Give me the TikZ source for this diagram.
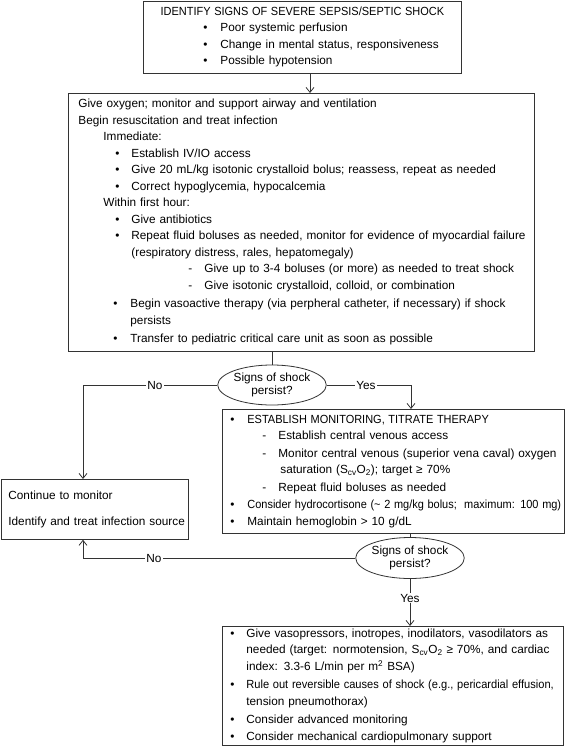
\documentclass[tikz,border=0pt]{standalone}
\usepackage{fontspec}
\setmainfont{Liberation Sans}
\usetikzlibrary{arrows.meta,shapes.geometric}
\newcommand\Lnn[1]{\makebox[\linewidth][l]{#1}}
\newcommand\itm[3]{\Lnn{\hspace*{#1pt}\makebox[#2pt][l]{\textbullet}#3}}
\newcommand\dsh[3]{\Lnn{\hspace*{#1pt}\makebox[#2pt][l]{-}#3}}
\newcommand\ind[2]{\Lnn{\hspace*{#1pt}#2}}
\newcommand\scvo{S\textsubscript{cv}O\textsubscript{2}}
\newcommand\caps[1]{\scalebox{0.93}[1]{#1}}
\newcommand\narrow[2]{\scalebox{#1}[1]{#2}}
\begin{document}
\begin{tikzpicture}[x=1pt,y=-1pt,
  every node/.style={font=\fontsize{11.8}{16.5}\selectfont},
  box/.style={draw=black!80, line width=0.8pt, rectangle, inner xsep=0pt, inner ysep=0pt, align=left, anchor=north west},
  qell/.style={draw=black!80, line width=0.8pt, ellipse, inner sep=0pt, align=center, font=\fontsize{11.8}{13}\selectfont},
  conn/.style={draw=black!80, line width=0.8pt},
  arr/.style={conn, -{Straight Barb[length=5pt,width=8pt]}},
  lbl/.style={fill=white, inner sep=1pt}
]
\useasboundingbox (0,0) rectangle (569,746);
% top box
\node[box, text width=318pt, minimum height=72pt] (top) at (143,0.8) {%
\makebox[318pt][c]{\caps{IDENTIFY SIGNS OF SEVERE SEPSIS/SEPTIC SHOCK}}\\
\itm{60}{17}{Poor systemic perfusion}\\
\itm{60}{17}{Change in mental status, responsiveness}\\
\itm{60}{17}{Possible hypotension}};
% big box
\node[box, text width=466pt, minimum height=258pt] (big) at (68,93) {%
\ind{10}{Give oxygen; monitor and support airway and ventilation}\\
\ind{10}{Begin resuscitation and treat infection}\\
\ind{35}{Immediate:}\\
\itm{47}{16}{Establish IV/IO access}\\
\itm{47}{16}{Give 20 mL/kg isotonic crystalloid bolus; reassess, repeat as needed}\\
\itm{47}{16}{Correct hypoglycemia, hypocalcemia}\\
\ind{35}{Within first hour:}\\
\itm{47}{16}{Give antibiotics}\\
\itm{47}{16}{Repeat fluid boluses as needed, monitor for evidence of myocardial failure}\\
\ind{63}{(respiratory distress, rales, hepatomegaly)}\\
\dsh{120}{16}{Give up to 3-4 boluses (or more) as needed to treat shock}\\
\dsh{120}{16}{Give isotonic crystalloid, colloid, or combination}\\[2pt]
\itm{45}{17}{Begin vasoactive therapy (via perpheral catheter, if necessary) if shock}\\
\ind{62}{persists}\\[2pt]
\itm{45}{17}{Transfer to pediatric critical care unit as soon as possible}};
% decision 1
\node[qell, minimum width=100pt, minimum height=40pt] (q1) at (272,385) {Signs of shock\\persist?};
% continue box
\node[box, text width=187pt, minimum height=60pt] (cont) at (1,479) {%
\ind{7}{Continue to monitor}\\[9pt]
\ind{7}{Identify and treat infection source}\\[2pt]};
% establish box
\node[box, text width=342pt, minimum height=124pt] (est) at (222,409) {%
\itm{8}{17}{\caps{ESTABLISH MONITORING, TITRATE THERAPY}}\\
\dsh{40}{16}{Establish central venous access}\\[1pt]
\dsh{40}{16}{Monitor central venous (superior vena caval) oxygen}\\
\ind{58}{saturation (\scvo); target \char"2265\ 70\%}\\[1pt]
\dsh{40}{16}{Repeat fluid boluses as needed}\\[1pt]
\itm{8}{17}{\narrow{0.93}{Consider hydrocortisone (\textasciitilde\ 2 mg/kg bolus;\ \ maximum: 100 mg)}}\\
\itm{8}{17}{Maintain hemoglobin > 10 g/dL}};
% decision 2
\node[qell, minimum width=97pt, minimum height=41pt] (q2) at (410,558) {Signs of shock\\persist?};
% bottom box
\node[box, text width=341pt, minimum height=119pt] (bot) at (222,626) {%
\itm{8}{16}{Give vasopressors, inotropes, inodilators, vasodilators as}\\
\ind{24}{needed (target: normotension, \scvo\ \char"2265\ 70\%, and cardiac}\\
\ind{24}{index: 3.3-6 L/min per m\textsuperscript{2} BSA)}\\[2pt]
\itm{8}{16}{\narrow{0.94}{Rule out reversible causes of shock (e.g., pericardial effusion,}}\\
\ind{24}{tension pneumothorax)}\\[2pt]
\itm{8}{16}{Consider advanced monitoring}\\
\itm{8}{16}{Consider mechanical cardiopulmonary support}};
% helper coordinates
\coordinate (c1) at (310,0);
\coordinate (cL) at (83,0);
\coordinate (cR) at (411,0);
% connectors
\draw[arr] (top.south -| c1) -- (big.north -| c1);
\draw[conn] (big.south -| q1.north) -- (q1.north);
\draw[arr] (q1.west) -- (q1.west -| cL) -- (cont.north -| cL);
\node[lbl] (no1) at (155,385) {No};
\draw[arr] (q1.east) -- (q1.east -| cR) -- (est.north -| cR);
\node[lbl] (yes1) at (366,385) {Yes};
\draw[conn] (est.south -| q2.north) -- (q2.north);
\draw[arr] (q2.west) -- (q2.west -| cL) -- (cont.south -| cL);
\node[lbl] (no2) at (154,558) {No};
\draw[arr] (q2.south) -- (bot.north -| q2.south);
\node[lbl] (yes2) at (410,598) {Yes};
\end{tikzpicture}
\end{document}
